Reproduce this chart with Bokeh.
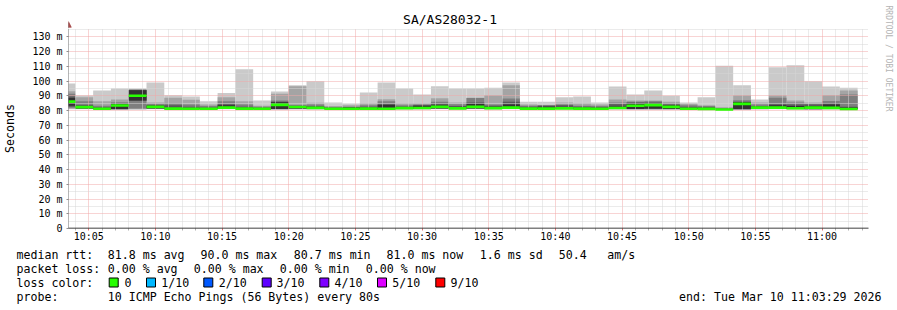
import math
from datetime import datetime, timedelta
from bokeh.plotting import figure
from bokeh.layouts import row, column
from bokeh.models import (Range1d, FixedTicker, Arrow, DatetimeTickFormatter)
from bokeh.core.properties import value
from bokeh.embed import file_html
from bokeh.resources import INLINE

# ---------------- data ----------------
title = "SA/AS28032-1"
first_step_end = datetime(2026, 3, 10, 10, 4, 0)
step_seconds = 80
view_start = datetime(2026, 3, 10, 10, 3, 29)
view_end = datetime(2026, 3, 10, 11, 3, 29)

# ten sorted pings per 80 s step (ms)
ping1 = [80.8,80.9,80.8,80.7,80.7,80.8,80.8,80.8,80.8,80.9,80.8,80.8,80.7,80.8,80.8,80.8,80.8,80.8,80.4,80.8,80.8,80.8,80.8,80.9,80.8,80.9,80.8,80.8,80.8,80.8,80.8,80.8,80.7,80.7,80.7,80.8,80.8,80.6,80.6,80.8,80.9,80.8,80.7,80.8,80.8]
ping2 = [81.2,81.0,80.9,80.8,80.9,81.0,80.9,80.9,80.9,81.0,80.9,80.9,80.8,80.9,80.9,80.9,80.9,80.9,80.5,80.9,80.9,81.0,80.9,81.0,80.9,81.0,80.9,80.9,80.9,80.9,80.9,80.9,80.8,80.8,80.8,80.9,80.8,80.6,80.7,80.9,81.0,80.9,80.8,80.9,80.9]
ping3 = [81.8,81.1,81.0,80.9,81.3,81.1,81.0,81.0,81.0,81.1,81.0,80.9,80.9,81.0,81.0,80.9,80.9,80.9,80.5,81.0,81.0,81.1,81.0,81.1,81.0,81.2,80.9,80.9,81.0,80.9,80.9,81.0,80.9,80.9,80.9,80.9,80.9,80.7,80.8,81.0,81.1,81.0,80.9,81.0,80.9]
ping4 = [82.5,81.3,81.0,80.9,86.6,81.3,81.0,81.0,81.0,81.3,81.0,81.0,81.0,81.2,81.2,81.0,81.0,81.0,80.6,81.1,81.2,81.3,81.1,81.3,81.1,81.4,81.0,81.0,81.0,81.0,81.0,81.2,81.0,81.1,81.0,81.0,80.9,80.7,80.9,81.2,81.2,81.1,80.9,81.2,80.9]
ping5 = [83.2,81.6,81.1,81.0,86.8,81.6,81.1,81.1,81.1,81.5,81.1,81.0,81.0,81.6,81.4,81.0,81.0,81.1,80.7,81.2,81.3,81.6,81.2,81.6,81.2,81.6,81.1,81.1,81.1,81.1,81.0,81.4,81.1,81.3,81.1,81.0,81.0,80.7,81.0,81.4,81.4,81.2,81.0,81.4,81.0]
ping6 = [88.5,83.0,81.6,84.4,93.7,83.2,81.8,81.6,81.5,83.5,81.8,81.5,85.6,82.9,82.3,81.5,82.0,81.8,83.7,82.2,83.3,83.5,82.2,84.5,82.5,84.0,81.8,82.5,82.2,81.8,81.6,82.8,84.8,85.0,83.5,81.8,81.5,80.9,85.8,82.5,83.5,83.0,83.0,84.0,82.0]
ping7 = [89.5,83.8,82.2,84.9,93.9,83.8,83.5,82.6,82.0,84.2,82.6,81.9,86.0,83.2,83.0,81.8,82.2,82.5,84.4,82.8,83.6,84.5,83.0,85.5,83.3,86.0,82.5,83.2,83.5,82.5,82.3,84.3,85.5,85.5,84.0,82.5,82.3,81.2,86.0,83.0,84.3,84.0,84.0,85.0,82.5]
ping8 = [91.4,86.3,83.2,85.6,94.1,84.6,85.0,84.0,83.0,86.3,84.0,82.5,86.8,83.6,84.0,82.3,82.5,83.5,86.3,83.5,84.0,86.0,84.3,88.4,84.0,88.2,83.3,83.5,84.0,83.3,83.0,85.5,86.0,86.3,85.0,83.5,83.0,81.6,87.0,84.0,88.6,85.4,84.5,86.5,90.9]
ping9 = [93.0,89.0,86.3,87.5,94.4,85.5,88.6,87.3,84.1,89.0,86.3,83.2,91.3,96.5,85.2,83.0,83.5,85.0,87.7,85.0,85.0,88.3,85.4,88.6,90.4,97.2,84.0,83.8,85.4,85.0,84.0,87.5,86.8,86.8,86.0,84.5,83.6,82.2,90.3,85.5,90.4,86.8,85.5,90.5,93.6]
ping10 = [98.3,90.2,93.6,95.0,95.0,99.0,90.3,89.5,86.2,91.8,108.0,86.8,92.9,97.2,99.8,85.4,84.5,92.2,99.0,95.0,90.8,96.5,95.0,95.0,95.5,99.0,85.9,85.9,89.0,89.5,85.4,96.3,90.8,93.6,90.0,85.4,89.0,110.3,97.2,87.5,109.4,110.7,99.9,96.3,95.4]
median = [86.0,82.3,81.2,83.4,90.0,82.5,81.3,81.2,81.2,82.0,81.3,81.2,83.8,82.4,81.8,81.2,81.2,81.3,81.2,81.6,81.7,82.5,81.4,82.5,81.6,82.0,81.3,81.3,81.4,81.3,81.2,81.7,83.2,83.7,82.5,81.2,81.1,80.7,84.5,82.0,82.0,81.5,82.0,81.8,81.0]

y_ticks = [0, 10, 20, 30, 40, 50, 60, 70, 80, 90, 100, 110, 120, 130]
y_tick_labels = ["0", "10 m", "20 m", "30 m", "40 m", "50 m", "60 m", "70 m",
                 "80 m", "90 m", "100 m", "110 m", "120 m", "130 m"]

loss_labels = ["0", "1/10", "2/10", "3/10", "4/10", "5/10", "9/10"]
loss_colors = ["#26ff00", "#00b8ff", "#0059ff", "#5e00ff", "#7e00ff", "#dd00ff", "#ff0000"]

line_rtt = ["median rtt:", "81.8 ms avg", "90.0 ms max", "80.7 ms min", "81.0 ms now", "1.6 ms sd", "50.4", "am/s"]
line_loss = ["packet loss:", "0.00 % avg", "0.00 % max", "0.00 % min", "0.00 % now"]
probe_label = "probe:"
probe_text = "10 ICMP Echo Pings (56 Bytes) every 80s"
end_text = "end: Tue Mar 10 11:03:29 2026"
watermark = "RRDTOOL / TOBI OETIKER"

# ---------------- derived ----------------
n = len(median)
ends = [first_step_end + timedelta(seconds=step_seconds * k) for k in range(n)]
starts = [e - timedelta(seconds=step_seconds) for e in ends]

EPOCH = datetime(1970, 1, 1)
def ms(d):
    return (d - EPOCH).total_seconds() * 1000.0

major_x = [ms(datetime(2026, 3, 10, 10, 0) + timedelta(minutes=m)) for m in range(5, 61, 5)]
minor_x = [ms(datetime(2026, 3, 10, 10, 0) + timedelta(minutes=m)) for m in range(4, 64) if m % 5 != 0]

MONO = "DejaVu Sans Mono"
W, H = 897, 310
TOP_H = 28          # title strip height
MAIN_W = 877        # main chart width (watermark strip to its right)
ROW_H = 245         # title strip + chart
FL, FR, FT, FB = 66, 868, 28, 228   # frame in window pixels
ARROW_RED = "#8b1010"


def blank(width, height, left=0, right=0):
    f = figure(width=width, height=height, output_backend="svg", toolbar_location=None,
               x_range=Range1d(left, width - right), y_range=Range1d(height, 0),
               x_axis_location=None, y_axis_location=None,
               min_border_left=left, min_border_right=right,
               min_border_top=0, min_border_bottom=0)
    f.grid.visible = False
    f.outline_line_color = None
    f.background_fill_color = "white"
    f.border_fill_color = "white"
    return f

# ---------------- title strip (frame aligned with the chart frame) ----------------
tf = blank(MAIN_W, TOP_H, left=FL, right=MAIN_W - FR)
tf.text(x=[W / 2], y=[19], text=[title], text_font=value(MONO), text_font_size=value("13px"),
        text_color="#000000", text_align="center", text_baseline="middle")
# top part of the y axis and its arrow head (screen units, frame-relative)
tf.add_layout(Arrow(x_start=0, y_start=0, x_end=0, y_end=TOP_H - 22, start_units="screen",
                    end_units="screen", line_color="#6e6e6e", line_width=1, end=None))
for i, hw in enumerate([3.0, 2.5, 2.0, 1.5, 1.0, 0.5]):
    yy = TOP_H - (26.5 - i)
    tf.add_layout(Arrow(x_start=-hw, y_start=yy, x_end=hw, y_end=yy, start_units="screen",
                        end_units="screen", line_color=ARROW_RED, line_width=1, end=None))

# ---------------- main chart ----------------
p = figure(width=MAIN_W, height=ROW_H - TOP_H, x_axis_type="datetime", output_backend="svg",
           toolbar_location=None,
           x_range=Range1d(ms(view_start), ms(view_end)),
           y_range=Range1d(0, 135.6),
           min_border_left=FL, min_border_right=MAIN_W - FR,
           min_border_top=0, min_border_bottom=ROW_H - FB)
p.background_fill_color = "white"
p.border_fill_color = "white"
p.outline_line_color = None

# smoke: band i spans ping_i .. ping_(11-i)
lows = [ping1, ping2, ping3, ping4, ping5]
highs = [ping10, ping9, ping8, ping7, ping6]
band_colors = ["#cacaca", "#a4a4a4", "#7e7e7e", "#585858", "#323232"]
for lo, hi, c in zip(lows, highs, band_colors):
    r = p.quad(left=starts, right=ends, bottom=lo, top=hi, fill_color=c, line_color=None)
    r.level = "image"

half = 0.9
p.quad(left=starts, right=ends, bottom=[m - half for m in median],
       top=[m + half for m in median], fill_color="#26ff00", line_color=None)

xticker = FixedTicker(ticks=major_x, minor_ticks=minor_x)
xa = p.xaxis[0]
xa.ticker = xticker
p.xgrid.ticker = xticker
xa.formatter = DatetimeTickFormatter(hourmin="%H:%M", minutes="%H:%M", hours="%H:%M",
                                     minsec="%H:%M", seconds="%H:%M")
yticker = FixedTicker(ticks=y_ticks, minor_ticks=[v + 5 for v in y_ticks])
ya = p.yaxis[0]
ya.ticker = yticker
p.ygrid.ticker = yticker
ya.major_label_overrides = {t: s for t, s in zip(y_ticks, y_tick_labels)}

for ax in (xa, ya):
    ax.axis_line_color = None
    ax.major_label_text_font = MONO
    ax.major_label_text_font_size = "10px"
    ax.major_label_text_color = "#000000"
    ax.major_tick_in = 0
    ax.minor_tick_in = 0
xa.major_tick_out = 2
xa.minor_tick_out = 2
xa.major_tick_line_color = "#e07070"
xa.minor_tick_line_color = "#b0b0b0"
xa.major_label_standoff = 0
ya.major_tick_out = 2
ya.minor_tick_out = 0
ya.major_tick_line_color = "#909090"
ya.minor_tick_line_color = None
ya.major_label_standoff = 4
ya.axis_label = "Seconds"
ya.axis_label_text_font = MONO
ya.axis_label_text_font_size = "11.6px"
ya.axis_label_text_font_style = "normal"
ya.axis_label_text_color = "#000000"
ya.axis_label_standoff = 12

for g in (p.xgrid, p.ygrid):
    g.grid_line_color = "#f0a8a8"
    g.grid_line_dash = "1 1"
    g.minor_grid_line_color = "#d6d6d6"
    g.minor_grid_line_dash = "1 1"

fw, fh = FR - FL, FB - FT
# axis lines (screen units relative to the frame)
p.add_layout(Arrow(x_start=0, y_start=0, x_end=0, y_end=fh, start_units="screen",
                   end_units="screen", line_color="#6e6e6e", line_width=1, end=None))
p.add_layout(Arrow(x_start=-4, y_start=0, x_end=fw + 1, y_end=0, start_units="screen",
                   end_units="screen", line_color="#000000", line_width=1.5, end=None))
# right arrow head built from short strokes
for i, hh in enumerate([3.0, 2.5, 2.0, 1.5, 1.0, 0.5]):
    xx = fw + 1.5 + i
    p.add_layout(Arrow(x_start=xx, y_start=-hh, x_end=xx, y_end=hh, start_units="screen",
                       end_units="screen", line_color=ARROW_RED, line_width=1, end=None))

# ---------------- watermark strip ----------------
wm = blank(W - MAIN_W, ROW_H)
wm.text(x=[887.7 - MAIN_W], y=[5], text=[watermark], text_font=value(MONO),
        text_font_size=value("8px"), text_color="#b4b4b4", angle=-math.pi / 2,
        text_align="left", text_baseline="middle")

# ---------------- legend strip ----------------
lg = blank(W, H - ROW_H)
oy = ROW_H
rtt_x = [16, 107.3, 200, 293.3, 386, 479.3, 558.3, 606.7]
loss_x = [16, 107.3, 193.3, 279.3, 365.3]
sw_x = [108.7, 146, 203.3, 261.7, 319.3, 377, 435.3]
sw_tx = [124, 160.7, 218.3, 276, 334, 391.7, 450]

tx = rtt_x + loss_x + [16] + sw_tx + [16, 107.3]
ty = ([254 - oy] * len(rtt_x) + [268 - oy] * len(loss_x) + [282 - oy]
      + [282 - oy] * len(sw_tx) + [296 - oy] * 2)
tt = line_rtt + line_loss + ["loss color:"] + loss_labels + [probe_label, probe_text]
lg.text(x=tx, y=ty, text=tt, text_font=value(MONO), text_font_size=value("11.6px"),
        text_color="#000000", text_align="left", text_baseline="middle")
lg.text(x=[881], y=[296 - oy], text=[end_text], text_font=value(MONO),
        text_font_size=value("11.6px"), text_color="#000000", text_align="right",
        text_baseline="middle")
lg.quad(left=sw_x, right=[x + 9 for x in sw_x], top=[277.5 - oy] * len(sw_x),
        bottom=[286.5 - oy] * len(sw_x), fill_color=loss_colors, line_color="#000000",
        line_width=1)

layout = column(row(column(tf, p), wm), lg)
open("out.html", "w").write(file_html(layout, INLINE))
